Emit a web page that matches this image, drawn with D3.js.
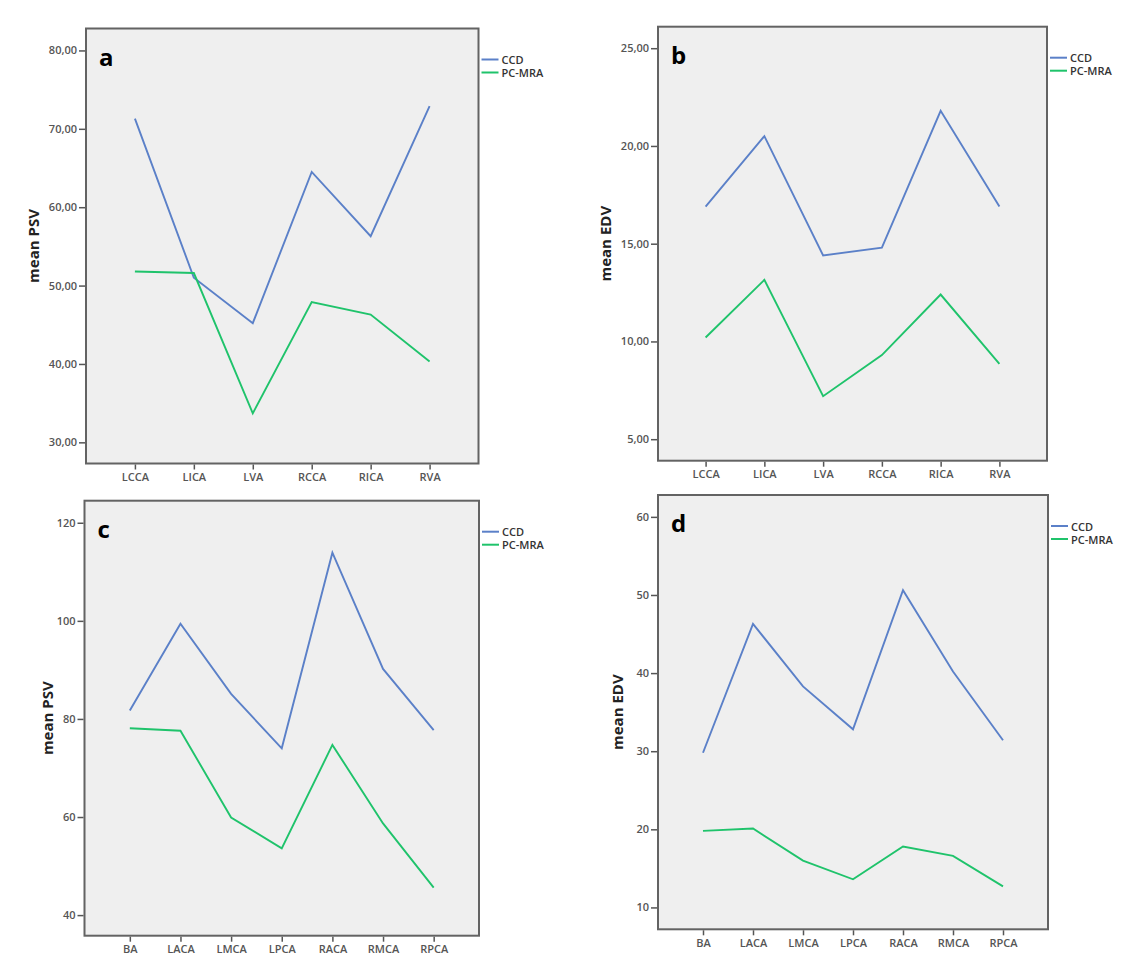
<!DOCTYPE html>
<html>
<head>
<meta charset="utf-8">
<script src="https://cdn.jsdelivr.net/npm/d3@7"></script>
<style>
  body { margin: 0; background: #fff; }
  text { font-family: "Open Sans", "DejaVu Sans", sans-serif; }
</style>
</head>
<body>
<script>
// categories
var carotidSites = ["LCCA", "LICA", "LVA", "RCCA", "RICA", "RVA"];
var cerebralSites = ["BA", "LACA", "LMCA", "LPCA", "RACA", "RMCA", "RPCA"];
var seriesNames = ["CCD", "PC-MRA"];

// a: mean PSV, extracranial
var ccdPsvA = [71.3, 51.0, 45.2, 64.5, 56.3, 72.9];
var mraPsvA = [51.8, 51.6, 33.7, 47.9, 46.3, 40.3];
// b: mean EDV, extracranial
var ccdEdvB = [16.9, 20.5, 14.4, 14.8, 21.8, 16.9];
var mraEdvB = [10.2, 13.15, 7.2, 9.3, 12.4, 8.85];
// c: mean PSV, intracranial
var ccdPsvC = [81.7, 99.4, 85.1, 74.0, 113.9, 90.2, 77.7];
var mraPsvC = [78.1, 77.6, 59.9, 53.6, 74.7, 58.7, 45.6];
// d: mean EDV, intracranial
var ccdEdvD = [29.8, 46.3, 38.3, 32.8, 50.6, 40.2, 31.4];
var mraEdvD = [19.8, 20.1, 16.0, 13.6, 17.8, 16.6, 12.7];

// tick labels
var ticksA = [30, 40, 50, 60, 70, 80];
var ticksB = [5, 10, 15, 20, 25];
var ticksC = [40, 60, 80, 100, 120];
var ticksD = [10, 20, 30, 40, 50, 60];

var colors = ["#5b80c8", "#1fc36b"];

// SPSS style decimal comma
var commaFmt = function(v) { return d3.format(".2f")(v).replace(".", ","); };
var intFmt = d3.format("d");

var panels = [
  { letter: "a", sites: carotidSites, ccd: ccdPsvA, mra: mraPsvA, ticks: ticksA, fmt: commaFmt,
    title: "mean PSV", x0: 86, x1: 478.5, y0: 28.5, y1: 463.5, yDomain: [27.3, 82.8], pad: 0.83, titleX: 33 },
  { letter: "b", sites: carotidSites, ccd: ccdEdvB, mra: mraEdvB, ticks: ticksB, fmt: commaFmt,
    title: "mean EDV", x0: 658, x1: 1047, y0: 26.7, y1: 460.7, yDomain: [3.9, 26.1], pad: 0.81, titleX: 605 },
  { letter: "c", sites: cerebralSites, ccd: ccdPsvC, mra: mraPsvC, ticks: ticksC, fmt: intFmt,
    title: "mean PSV", x0: 84.5, x1: 479, y0: 500.7, y1: 935.7, yDomain: [35.8, 124.5], pad: 0.895, titleX: 47 },
  { letter: "d", sites: cerebralSites, ccd: ccdEdvD, mra: mraEdvD, ticks: ticksD, fmt: intFmt,
    title: "mean EDV", x0: 658, x1: 1048, y0: 495, y1: 929.3, yDomain: [7.2, 62.8], pad: 0.9, titleX: 617 }
];

var svg = d3.select("body").append("svg")
  .attr("width", 1140)
  .attr("height", 980);

svg.append("rect").attr("width", 1140).attr("height", 980).attr("fill", "#fff");

panels.forEach(function(p) {
  var g = svg.append("g").attr("class", "panel-" + p.letter);

  var x = d3.scalePoint().domain(p.sites).range([p.x0, p.x1]).padding(p.pad);
  var y = d3.scaleLinear().domain(p.yDomain).range([p.y1, p.y0]);

  // plot area
  g.append("rect")
    .attr("x", p.x0).attr("y", p.y0)
    .attr("width", p.x1 - p.x0).attr("height", p.y1 - p.y0)
    .attr("fill", "#efefef")
    .attr("stroke", "#636363")
    .attr("stroke-width", 2);

  // y axis
  var yAxis = g.append("g")
    .attr("transform", "translate(" + (p.x0 - 1) + ",0)")
    .call(d3.axisLeft(y).tickValues(p.ticks).tickFormat(p.fmt).tickSize(6).tickPadding(2));
  yAxis.select(".domain").remove();
  yAxis.selectAll("line").attr("stroke", "#555").attr("stroke-width", 1.5);
  yAxis.selectAll("text").attr("fill", "#555").style("font-size", "11px").style("font-weight", "600");

  // x axis
  var xAxis = g.append("g")
    .attr("transform", "translate(0," + (p.y1 + 1) + ")")
    .call(d3.axisBottom(x).tickSize(5).tickPadding(4));
  xAxis.select(".domain").remove();
  xAxis.selectAll("line").attr("stroke", "#555").attr("stroke-width", 1.5);
  xAxis.selectAll("text").attr("fill", "#555").style("font-size", "11px").style("font-weight", "600");

  // lines
  var line = d3.line()
    .x(function(d, i) { return x(p.sites[i]); })
    .y(function(d) { return y(d); });

  [p.ccd, p.mra].forEach(function(vals, k) {
    g.append("path")
      .datum(vals)
      .attr("d", line)
      .attr("fill", "none")
      .attr("stroke", colors[k])
      .attr("stroke-width", 1.9)
      .attr("stroke-linejoin", "miter");
  });

  // panel letter
  g.append("text")
    .attr("x", p.x0 + 13)
    .attr("y", p.y0 + 37)
    .style("font-size", "24px")
    .style("font-weight", "bold")
    .attr("fill", "#000")
    .text(p.letter);

  // y title
  g.append("text")
    .attr("transform", "translate(" + p.titleX + "," + ((p.y0 + p.y1) / 2) + ") rotate(-90)")
    .attr("text-anchor", "middle")
    .attr("dominant-baseline", "central")
    .style("font-size", "15px")
    .style("font-weight", "bold")
    .attr("fill", "#222")
    .text(p.title);

  // legend
  seriesNames.forEach(function(name, k) {
    var ly = p.y0 + 31 + k * 13;
    g.append("line")
      .attr("x1", p.x1 + 3).attr("x2", p.x1 + 20)
      .attr("y1", ly).attr("y2", ly)
      .attr("stroke", colors[k])
      .attr("stroke-width", 2);
    g.append("text")
      .attr("x", p.x1 + 23)
      .attr("y", ly)
      .attr("dominant-baseline", "central")
      .style("font-size", "11px")
      .style("font-weight", "600")
      .attr("fill", "#333")
      .text(name);
  });
});
</script>
</body>
</html>
